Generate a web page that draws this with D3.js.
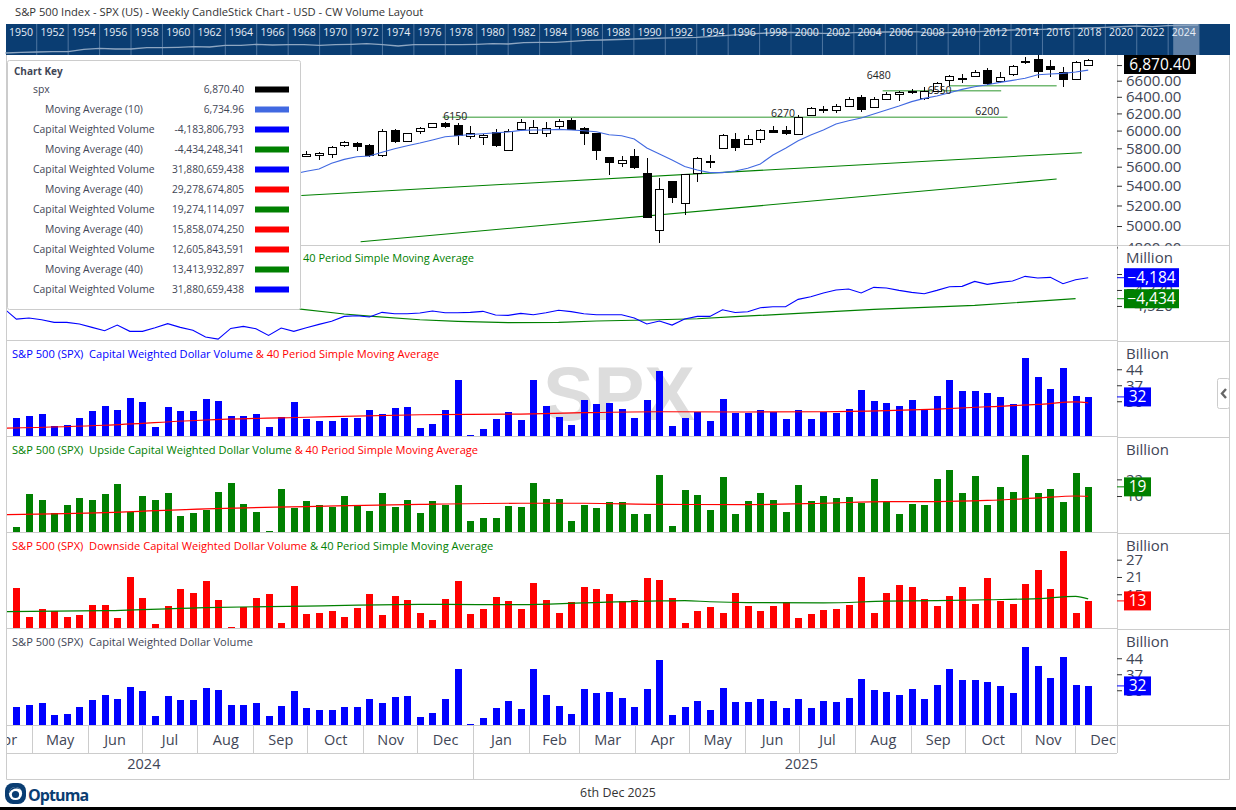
<!DOCTYPE html>
<html><head><meta charset="utf-8">
<script src="https://cdn.jsdelivr.net/npm/d3@7/dist/d3.min.js"></script>
<style>
html,body{margin:0;padding:0;background:#fff;overflow:hidden}
svg{display:block}
text{font-family:"Open Sans",sans-serif}
.axis .domain{display:none}
</style></head><body>
<svg id="c" width="1236" height="810" xmlns="http://www.w3.org/2000/svg"></svg>
<script>
// ---------- data ----------
const titleText = "S&P 500 Index - SPX (US) - Weekly CandleStick Chart - USD - CW Volume Layout";
const stripYears = [1950,1952,1954,1956,1958,1960,1962,1964,1966,1968,1970,1972,1974,1976,1978,1980,1982,1984,1986,1988,1990,1992,1994,1996,1998,2000,2002,2004,2006,2008,2010,2012,2014,2016,2018,2020,2022,2024];
const stripLineYears = [1950,1951,1952,1953,1954,1955,1956,1957,1958,1959,1960,1961,1962,1963,1964,1965,1966,1967,1968,1969,1970,1971,1972,1973,1974,1975,1976,1977,1978,1979,1980,1981,1982,1983,1984,1985,1986,1987,1988,1990,1992,1994,1996,1998,2000,2002,2003,2004,2006,2008,2009,2010,2012,2014,2016,2018,2020,2022,2023,2024,2025.9];
const stripLineLevels = [0,2,3,4,4,11,14,12,12,16,16,17,19,18,23,23,26,24,25,25,23,25,26,28,25,21,25,25,25,25,26,28,27,31,32,32,35,38,39,42,45,47,53,59,62,59,58,61,63,64,59,61,64,69,71,74,77,81,79,82,84];

// weekly bars: Capital Weighted Dollar Volume (billions)
const cwVolume = [22.7,23.6,24.4,19.2,19.6,22.7,25.7,27.9,26.2,31.4,29.7,18.7,27.5,25.7,25.7,31.0,30.1,23.6,23.6,24.4,18.7,23.1,29.7,22.2,21.4,21.4,22.7,22.7,26.2,24.4,27.1,27.5,18.3,
 20.1,26.2,39.3,15.2,17.9,22.2,25.3,21.8,39.3,27.9,23.1,19.6,30.6,28.8,29.2,26.6,22.7,30.6,43.2,19.2,22.7,25.3,21.4,31.0,24.9,24.9,26.2,25.3,22.2,26.2,22.2,
 25.3,24.9,26.6,34.9,30.1,29.2,27.9,30.6,26.2,32.3,39.3,34.5,34.5,33.6,31.9,28.8,48.9,40.6,35.4,44.5,32.3,31.9];
const upVolume = [4.8,16.7,14.6,9.9,12.8,15.3,14.6,16.7,20.3,10.2,16.0,14.6,17.1,8.8,9.9,11.0,17.4,20.7,13.1,10.2,3.4,18.5,11.7,14.2,12.8,12.1,16.0,12.8,10.6,17.1,12.1,14.6,9.9,
 14.2,12.8,20.0,7.0,8.1,8.1,12.4,12.1,20.7,14.9,14.9,7.0,12.8,11.7,13.9,13.9,9.5,9.5,23.6,5.2,18.2,16.4,11.0,22.9,9.5,14.2,17.1,14.6,10.2,20.0,14.2,
 16.0,15.3,15.7,13.5,22.1,13.9,9.5,13.1,12.8,22.1,25.4,17.1,23.2,12.8,19.3,17.4,30.8,17.1,18.5,13.9,24.3,19.3];
const downVolume = [17.2,7.1,9.9,9.2,7.1,7.8,11.3,11.3,6.8,21.0,13.7,4.7,10.9,16.8,15.4,19.6,13.0,3.6,10.6,13.7,15.1,5.0,17.9,8.2,8.5,9.2,7.1,10.2,15.1,7.8,14.4,13.0,8.5,
 6.1,13.4,19.6,8.2,9.9,14.1,12.7,9.9,18.9,13.0,8.5,12.3,17.5,16.8,15.1,12.7,13.0,20.6,20.0,13.7,5.0,9.2,10.6,8.5,15.4,10.9,9.2,10.9,12.3,6.8,8.2,
 9.5,9.9,11.3,21.0,8.5,15.4,18.2,17.5,13.4,10.9,14.4,17.5,11.6,20.6,12.7,11.6,18.6,23.4,16.8,30.0,8.5,12.7];

// 40 period averages, read at these bar numbers
const cwMaBars = [-1,7,15,23,32,40,45,51,58,64,69,73,77,81,84,85];
const cwMa     = [18.2,19.5,21.8,23.0,24.1,24.4,25.0,25.4,25.3,25.4,25.9,26.6,27.6,28.6,29.7,29.3];
const upMaBars = [-1,7,15,23,32,40,45,51,58,64,69,73,77,81,84,85];
const upMa     = [9.3,10.0,11.4,12.2,13.0,13.4,13.4,13.0,12.9,13.4,14.0,14.0,14.4,15.3,16.0,15.9];
const dnMaBars = [-1,7,15,23,32,40,45,51,53,55,58,64,69,73,77,81,84,85];
const dnMa     = [9.0,9.3,10.4,10.9,11.5,11.4,12.0,12.7,12.8,12.4,12.1,12.0,12.6,12.8,13.1,13.5,14.3,13.4];

// cumulative capital weighted volume line (millions), bars -1 to 85
const cumVolume = [-4549,-4676,-4664,-4684,-4715,-4715,-4735,-4775,-4814,-4747,-4822,-4822,-4779,-4731,-4775,-4810,-4890,-4914,-4787,-4763,-4791,-4870,-4783,-4822,-4779,-4739,-4703,-4644,-4636,-4652,-4596,-4612,-4612,-4604,-4580,-4600,-4600,-4596,-4584,-4628,-4632,-4608,-4624,-4600,-4572,-4588,-4612,-4624,-4624,-4624,-4664,-4735,-4699,-4747,-4676,-4644,-4644,
 -4565,-4597,-4589,-4541,-4529,-4529,-4442,-4410,-4366,-4331,-4319,-4366,-4299,-4307,-4335,-4358,-4374,-4335,-4291,-4287,-4228,-4263,-4240,-4224,-4168,-4188,-4180,-4255,-4208,-4184];
const cumMaBars = [22,26,28,32,35,39,43,46,50,54,57,62,68,76,84];
const cumMa     = [-4549,-4616,-4640,-4684,-4703,-4719,-4715,-4699,-4687,-4672,-4648,-4608,-4561,-4513,-4434];

// candles for bars 23 to 85 (earlier bars sit behind the chart key)
const candleFirstBar = 23;
const candleOpen  = [5712,5723,5734,5829,5855,5833,5719,6002,5878,5987,6037,6087,6064,5930,5923,5979,5778,6014,5968,5968,6045,6122,6026,5968,5701,5633,5712,5530,4960,5450,5233,5530,5655,5807,5900,5855,5900,6006,6006,5968,6189,6248,6248,6296,6397,6276,6377,6442,6467,6389,6475,6600,6630,6655,6732,6604,6676,6844,6875,6783,6706,6630,6805];
const candleHigh  = [5766,5763,5825,5878,5870,5844,6014,6014,5968,6037,6091,6103,6087,6052,5960,6014,6014,6130,6122,6099,6134,6142,6037,5975,5705,5712,5792,5694,5477,5453,5527,5701,5726,5960,5968,5945,6018,6056,6052,6185,6280,6292,6316,6393,6421,6393,6454,6475,6500,6525,6583,6676,6689,6740,6757,6710,6796,6910,6936,6862,6770,6853,6882];
const candleLow   = [5700,5676,5697,5811,5774,5708,5708,5863,5866,5964,6029,6029,5837,5908,5837,5818,5774,6006,5964,5927,6006,6014,5837,5672,5512,5598,5580,5082,4845,5226,5107,5440,5590,5796,5774,5848,5863,5968,5953,5949,6181,6209,6205,6288,6220,6268,6361,6349,6430,6365,6462,6537,6570,6647,6550,6566,6659,6814,6638,6651,6525,6625,6805];
const candleClose = [5734,5745,5811,5866,5818,5726,5991,5874,5968,6026,6083,6052,5945,5968,5945,5829,5991,6095,6037,6026,6107,6018,5964,5774,5644,5669,5590,5085,5364,5289,5527,5690,5665,5953,5807,5908,6002,5987,5975,6161,6268,6256,6292,6377,6248,6377,6438,6462,6475,6475,6570,6655,6634,6710,6562,6651,6783,6853,6723,6740,6612,6844,6870.4];
const priceMaFirstBar = 22;
const priceMa = [5523,5551,5576,5637,5679,5708,5715,5756,5796,5829,5859,5893,5930,5941,5956,5964,5975,5983,6002,6006,6006,6014,6006,5998,5987,5953,5941,5904,5803,5737,5672,5601,5565,5537,5537,5554,5583,5630,5726,5800,5885,5949,6006,6076,6114,6146,6193,6240,6288,6341,6381,6410,6450,6491,6525,6550,6579,6604,6630,6676,6685,6693,6710,6735];

// drawn support lines: from bar, to bar, from price, to price
const trendFrom = [22.6,27.3], trendTo = [84.5,82.5], trendFromPrice = [5300,4852], trendToPrice = [5752,5470];
const levelFrom = [33.8,68.7,74], levelTo = [78.6,78.1,82.5], levelPrice = [6155,6475,6537];
const noteText = ["6150","6270","6480","6200","6550"], noteBar = [34.8,60.8,68.4,77,73.2], notePrice = [6169,6205,6672,6228,6483];

// axes
const priceTicks = [4800,5000,5200,5400,5600,5800,6000,6200,6400,6600,6800];
const cumTicks = [-4520,-4330,-4140];
const cwTicks = [30,37,44], upTicks = [16,22], dnTicks = [15,21,27];
const monthLabels = ["Apr","May","Jun","Jul","Aug","Sep","Oct","Nov","Dec","Jan","Feb","Mar","Apr","May","Jun","Jul","Aug","Sep","Oct","Nov","Dec"];
const yearLabels = ["2024","2025"];

// chart key
const keyNames = ["spx","Moving Average (10)","Capital Weighted Volume","Moving Average (40)","Capital Weighted Volume","Moving Average (40)","Capital Weighted Volume","Moving Average (40)","Capital Weighted Volume","Moving Average (40)","Capital Weighted Volume"];
const keyValues = ["6,870.40","6,734.96","-4,183,806,793","-4,434,248,341","31,880,659,438","29,278,674,805","19,274,114,097","15,858,074,250","12,605,843,591","13,413,932,897","31,880,659,438"];
const keyColors = ["#000000","#4169e1","#0000ff","#008000","#0000ff","#ff0000","#008000","#ff0000","#ff0000","#008000","#0000ff"];

// ---------- layout ----------
const BLUE="#0000ff",GREEN="#008000",RED="#ff0000",NAVY="#0a3d72",GRID="#cccccc",INK="#3f4656";
const L=7,R=1117,F=1229;
const svg=d3.select("#c");
const defs=svg.append("defs");
function clip(id,x,y,w,h){defs.append("clipPath").attr("id",id).append("rect").attr("x",x).attr("y",y).attr("width",w).attr("height",h);}
clip("cPrice",L,55,R-L,190);
clip("cCum",L,245.5,R-L,94.5);
clip("cVol",L,340,R-L,390);
clip("cMonths",L,725,R-L,28);

const x=d3.scaleUtc().domain([Date.UTC(2024,3,17,7,12),Date.UTC(2025,11,24,12)]).range([L,R]);
const lastBar=Date.UTC(2025,11,8,12);
const barDate=i=>new Date(lastBar-(85-i)*7*864e5);
const xb=i=>x(barDate(i));
const xr=i=>Math.round(xb(i));
const yPrice=d3.scaleLog().domain([6932,4822]).range([55,245]);
const yCum=d3.scaleLinear().domain([-3795,-4925]).range([245,340]);
const yCw1=d3.scaleLinear().domain([14.8,56.8]).range([436,340]);
const yUp=d3.scaleLinear().domain([3.05,37.6]).range([532,436]);
const yDn=d3.scaleLinear().domain([3.3,36.6]).range([628,532]);
const yCw2=d3.scaleLinear().domain([14.8,56.8]).range([725,629]);

// title
svg.append("text").attr("x",15).attr("y",16).attr("font-size",11.2).attr("fill","#333").text(titleText);

// overview strip
const xStrip=d3.scaleLinear().domain([1950,2026]).range([5.3,1199.6]);
const yStrip=d3.scaleLinear().domain([0,84]).range([53,25]);
const strip=svg.append("g");
strip.append("rect").attr("x",6).attr("y",24).attr("width",F-6+1).attr("height",31).attr("fill",NAVY);
strip.append("rect").attr("x",xStrip(2024.32)).attr("y",24).attr("width",xStrip(2025.99)-xStrip(2024.32)).attr("height",31).attr("fill","#5f80a6");
strip.selectAll("line").data(stripYears.slice(1)).join("line").attr("x1",d=>xStrip(d)).attr("x2",d=>xStrip(d)).attr("y1",24).attr("y2",55).attr("stroke","#4f76a0").attr("stroke-width",1);
strip.append("path").attr("fill","none").attr("stroke","#8ea6c1").attr("stroke-width",1.4)
 .attr("d",d3.line().x(d=>xStrip(d[0])).y(d=>yStrip(d[1]))(d3.zip(stripLineYears,stripLineLevels)));
strip.selectAll("text").data(stripYears).join("text").attr("x",d=>xStrip(d)+15.7).attr("y",35.5).attr("text-anchor","middle")
 .attr("font-size",10.5).attr("fill","#e8eef6").text(d=>d);

// frame
const frame=svg.append("g").attr("stroke",GRID).attr("fill","none").attr("stroke-width",1);
frame.append("path").attr("d",`M6.5 55V779.5H${F+.5}V55`);
frame.append("path").attr("d",`M${R+.5} 55V753`);
[245.5,340.5,436.5,532.5,628.5,725.5,753.5].forEach(yy=>frame.append("path").attr("d",`M7 ${yy}H${R}`));
[245.5,341.5,437.5,533.5,629.5,725.5].forEach(yy=>frame.append("path").attr("d",`M${R} ${yy}H${F}`));

// watermark
svg.append("text").attr("x",619).attr("y",420).attr("text-anchor","middle").attr("font-size",76).attr("font-weight",700)
 .attr("fill","#dddddd").style("font-family","'Liberation Sans',sans-serif").text("SPX");

// price panel
const pg=svg.append("g").attr("clip-path","url(#cPrice)");
const candles=d3.range(candleOpen.length).map(k=>({bar:candleFirstBar+k,o:candleOpen[k],h:candleHigh[k],l:candleLow[k],c:candleClose[k]}));
pg.selectAll(".lv").data(levelPrice).join("line").attr("class","lv")
 .attr("x1",(d,k)=>xb(levelFrom[k])).attr("x2",(d,k)=>xb(levelTo[k])).attr("y1",d=>yPrice(d)).attr("y2",d=>yPrice(d))
 .attr("stroke",GREEN).attr("stroke-opacity",.55).attr("stroke-width",1.6);
trendFrom.forEach((f,k)=>pg.append("path").attr("fill","none").attr("stroke",GREEN).attr("stroke-width",1.1)
 .attr("d",d3.line()([[xb(f),yPrice(trendFromPrice[k])],[xb(trendTo[k]),yPrice(trendToPrice[k])]])));
pg.selectAll(".wick").data(candles).join("line").attr("class","wick").attr("x1",d=>xr(d.bar)+.5).attr("x2",d=>xr(d.bar)+.5)
 .attr("y1",d=>yPrice(d.h)).attr("y2",d=>yPrice(d.l)).attr("stroke","#000").attr("stroke-width",1).attr("shape-rendering","crispEdges");
pg.selectAll(".body").data(candles).join("rect").attr("class","body")
 .attr("x",d=>xr(d.bar)-3.5).attr("width",8)
 .attr("y",d=>Math.round(yPrice(Math.max(d.o,d.c)))+.5).attr("height",d=>Math.max(1,Math.round(yPrice(Math.min(d.o,d.c))-yPrice(Math.max(d.o,d.c)))))
 .attr("fill",d=>d.c<d.o?"#000":"#fff").attr("stroke","#000").attr("stroke-width",1).attr("shape-rendering","crispEdges");
pg.append("path").attr("fill","none").attr("stroke","#4169e1").attr("stroke-width",1.1)
 .attr("d",d3.line().x((d,k)=>xb(priceMaFirstBar+k)).y(d=>yPrice(d))(priceMa));
pg.selectAll(".note").data(noteText).join("text").attr("class","note")
 .attr("x",(d,k)=>xb(noteBar[k])).attr("y",(d,k)=>yPrice(notePrice[k])).attr("dy",".35em").attr("text-anchor","middle")
 .attr("font-size",10.5).attr("fill","#222").text(d=>d);

// cumulative panel
const cg=svg.append("g").attr("clip-path","url(#cCum)");
cg.append("path").attr("fill","none").attr("stroke",GREEN).attr("stroke-width",1.2)
 .attr("d",d3.line().x(d=>xb(d[0])).y(d=>yCum(d[1]))(d3.zip(cumMaBars,cumMa)));
cg.append("path").attr("fill","none").attr("stroke",BLUE).attr("stroke-width",1.1)
 .attr("d",d3.line().x((d,k)=>xb(k-1)).y(d=>yCum(d))(cumVolume));
svg.append("text").attr("x",303).attr("y",262).attr("font-size",11).attr("fill",GREEN).text("40 Period Simple Moving Average");

// volume panels
function volPanel(vals,y,color,ma,maBars,maColor){
  const g=svg.append("g").attr("clip-path","url(#cVol)");
  g.selectAll("rect").data(vals).join("rect").attr("x",(d,k)=>xr(k)-3).attr("width",7)
   .attr("y",d=>y(d)).attr("height",d=>y.range()[0]-y(d)).attr("fill",color).attr("shape-rendering","crispEdges");
  if(ma) g.append("path").attr("fill","none").attr("stroke",maColor).attr("stroke-width",1.2)
   .attr("d",d3.line().curve(d3.curveMonotoneX).x(d=>xb(d[0])).y(d=>y(d[1]))(d3.zip(maBars,ma)));
}
volPanel(cwVolume,yCw1,BLUE,cwMa,cwMaBars,RED);
volPanel(upVolume,yUp,GREEN,upMa,upMaBars,RED);
volPanel(downVolume,yDn,RED,dnMa,dnMaBars,GREEN);
volPanel(cwVolume,yCw2,BLUE);

// panel headings
function heading(y,parts){
  const t=svg.append("text").attr("x",12).attr("y",y).attr("font-size",11.1).attr("xml:space","preserve").style("white-space","pre");
  parts.forEach(p=>t.append("tspan").attr("fill",p[1]).text(p[0]));
}
heading(358,[["S&P 500 (SPX)  Capital Weighted Dollar Volume ",BLUE],["& 40 Period Simple Moving Average",RED]]);
heading(454,[["S&P 500 (SPX)  Upside Capital Weighted Dollar Volume ",GREEN],["& 40 Period Simple Moving Average",RED]]);
heading(550,[["S&P 500 (SPX)  Downside Capital Weighted Dollar Volume ",RED],["& 40 Period Simple Moving Average",GREEN]]);
heading(646,[["S&P 500 (SPX)  Capital Weighted Dollar Volume",INK]]);

// right axes
function rightAxis(scale,ticks,fmt){
  const g=svg.append("g").attr("class","axis").attr("transform",`translate(${R},0)`)
   .call(d3.axisRight(scale).tickValues(ticks).tickSize(5).tickPadding(4).tickFormat(fmt));
  g.selectAll("line").attr("stroke","#333");
  g.selectAll("text").attr("font-size",15).attr("fill",INK).style("font-family","'Open Sans',sans-serif");
}
rightAxis(yPrice,priceTicks,d3.format(".2f"));
svg.append("rect").attr("x",R+1).attr("y",245.9).attr("width",F-R-1).attr("height",12).attr("fill","#fff");
rightAxis(yCum,cumTicks,d3.format(",d"));
[[yCw1,cwTicks],[yUp,upTicks],[yDn,dnTicks],[yCw2,cwTicks]].forEach(p=>rightAxis(p[0],p[1],d3.format("d")));

["Million","Billion","Billion","Billion","Billion"].forEach((u,k)=>
  svg.append("text").attr("x",1126).attr("y",[263,359,455,551,647][k]).attr("font-size",15).attr("fill",INK).text(u));

// last value tags
function tag(yy,txt,color,w,line){
  if(line) svg.append("line").attr("x1",R).attr("x2",1124).attr("y1",yy).attr("y2",yy).attr("stroke",color).attr("stroke-width",1);
  svg.append("rect").attr("x",1124).attr("y",yy-9.5).attr("width",w).attr("height",19).attr("fill",color);
  svg.append("text").attr("x",1124+w/2).attr("y",yy+5.5).attr("text-anchor","middle").attr("font-size",15.5).attr("fill","#fff").text(txt);
}
tag(64.5,d3.format(",.2f")(candleClose[candleClose.length-1]),"#000",72,false);
tag(yCum(cumVolume[cumVolume.length-1]),d3.format(",d")(cumVolume[cumVolume.length-1]),BLUE,55,true);
tag(yCum(cumMa[cumMa.length-1]),d3.format(",d")(cumMa[cumMa.length-1]),GREEN,55,true);
tag(yCw1(cwVolume[85]),d3.format("d")(cwVolume[85]),BLUE,27,true);
tag(yUp(upVolume[85]),d3.format("d")(upVolume[85]),GREEN,27,true);
tag(yDn(downVolume[85]),d3.format("d")(downVolume[85]),RED,27,true);
tag(yCw2(cwVolume[85]),d3.format("d")(cwVolume[85]),BLUE,27,true);

// collapse handle
svg.append("rect").attr("x",1217.5).attr("y",378.5).attr("width",12).attr("height",30).attr("rx",2).attr("fill","#fff").attr("stroke",GRID);
svg.append("path").attr("d","M1226 389L1222 393.5L1226 398").attr("fill","none").attr("stroke","#666").attr("stroke-width",2.4);

// time axis
const monthStart=k=>new Date(Date.UTC(2024,3+k,1));
const monthMid=k=>new Date((+monthStart(k)+ +monthStart(k+1))/2);
const monthIdx=d3.range(monthLabels.length);
const maWrap=svg.append("g").attr("clip-path","url(#cMonths)");
const ma=maWrap.append("g").attr("class","axis").attr("transform","translate(0,725)")
 .call(d3.axisBottom(x).tickValues(monthIdx.map(monthMid)).tickSize(0).tickPadding(10).tickFormat((d,k)=>monthLabels[k]));
ma.selectAll("text").attr("font-size",14.5).attr("fill",INK).style("font-family","'Open Sans',sans-serif");
frame.selectAll(".mb").data(monthIdx.slice(1).map(monthStart)).join("line").attr("class","mb")
 .attr("x1",d=>Math.round(x(d))+.5).attr("x2",d=>Math.round(x(d))+.5).attr("y1",725).attr("y2",753).attr("stroke",GRID);
const jan=x(new Date(Date.UTC(2025,0,1)));
frame.append("line").attr("x1",Math.round(jan)+.5).attr("x2",Math.round(jan)+.5).attr("y1",753).attr("y2",779).attr("stroke",GRID);
const ya=svg.append("g").attr("class","axis").attr("transform","translate(0,753)")
 .call(d3.axisBottom(x).tickValues(yearLabels.map(y=>new Date(Date.UTC(+y,6,2)))).tickSize(0).tickPadding(6).tickFormat((d,k)=>yearLabels[k]));
ya.selectAll("text").attr("font-size",14.5).attr("fill",INK).style("font-family","'Open Sans',sans-serif");

// footer
svg.append("text").attr("x",618).attr("y",797).attr("text-anchor","middle").attr("font-size",12.4).attr("fill","#333").text("6th Dec 2025");
svg.append("rect").attr("x",0).attr("y",807).attr("width",1236).attr("height",3).attr("fill","#000");
const logo=svg.append("g");
logo.append("rect").attr("x",5).attr("y",783).attr("width",21).attr("height",21).attr("rx",8).attr("fill",NAVY);
logo.append("circle").attr("cx",15.5).attr("cy",793.5).attr("r",6.6).attr("fill","#fff");
logo.append("path").attr("d","M9 793.5A6.5 6.5 0 0 1 21 790A8 8 0 0 0 9 793.5Z").attr("fill",NAVY);
logo.append("circle").attr("cx",15.5).attr("cy",794.5).attr("r",3.6).attr("fill",NAVY);
logo.append("text").attr("x",28).attr("y",801).attr("font-size",16).attr("font-weight",700).attr("letter-spacing",-.9).attr("fill",NAVY).text("Optuma");

// chart key
const kg=svg.append("g");
kg.append("rect").attr("x",7.5).attr("y",60.5).attr("width",293).attr("height",249).attr("rx",2).attr("fill","#fff").attr("stroke",GRID);
kg.append("text").attr("x",14).attr("y",75).attr("font-size",10).attr("font-weight",700).attr("fill",INK).text("Chart Key");
const rowY=k=>89.5+k*20;
kg.selectAll(".kn").data(keyNames).join("text").attr("class","kn").attr("x",d=>d.startsWith("Moving")?45:33).attr("y",(d,k)=>rowY(k)+3.5)
 .attr("font-size",10.4).attr("fill",INK).text(d=>d);
kg.selectAll(".kv").data(keyValues).join("text").attr("class","kv").attr("x",244).attr("y",(d,k)=>rowY(k)+3.5).attr("text-anchor","end")
 .attr("font-size",10.2).attr("fill",INK).text(d=>d);
kg.selectAll(".ks").data(keyColors).join("rect").attr("class","ks").attr("x",255).attr("y",(d,k)=>rowY(k)-3).attr("width",34).attr("height",6).attr("fill",d=>d);
</script>
</body></html>
